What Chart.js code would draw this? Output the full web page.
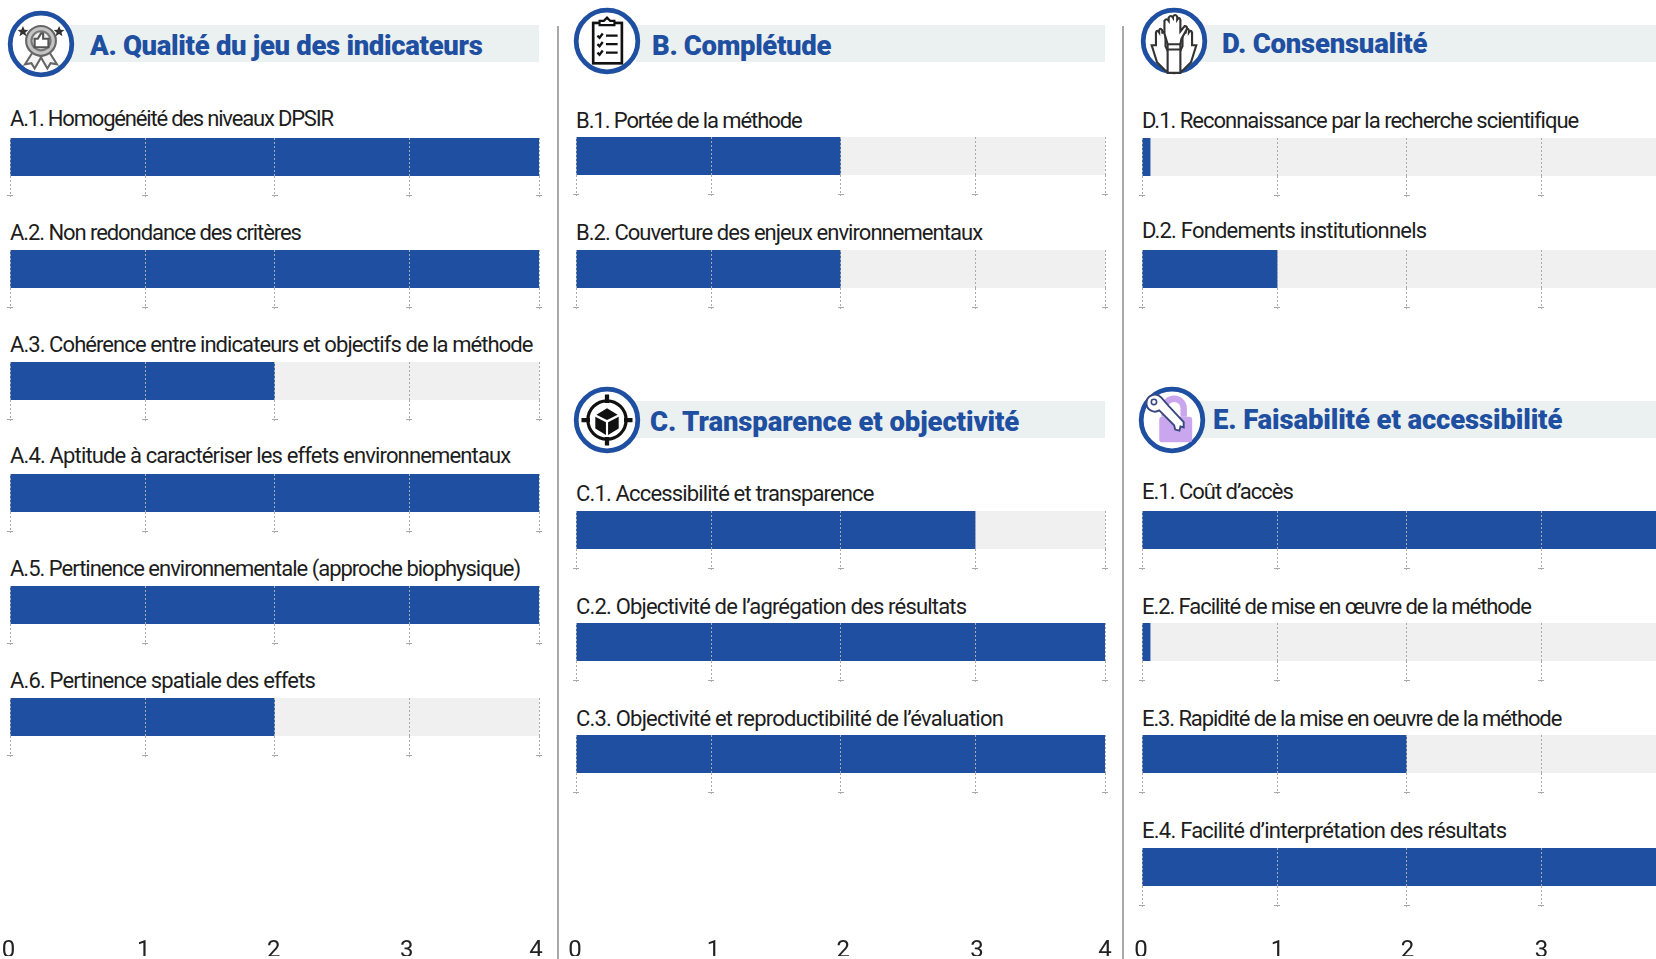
<!DOCTYPE html>
<html>
<head>
<meta charset="utf-8">
<script src="https://cdn.jsdelivr.net/npm/chart.js@4"></script>
<style>
html, body { margin: 0; padding: 0; background: #fff; }
body { width: 1656px; height: 959px; overflow: hidden; position: relative; font-family: Roboto, sans-serif; }
.abs { position: absolute; }
canvas { position: absolute; display: block; }
.band { background: #ebf0f0; height: 37px; }
.title { color: #1e4fa0; font-weight: 900; font-size: 27.5px; line-height: 36px; white-space: nowrap; }
.label { color: #1d1d1d; font-size: 22px; line-height: 26px; white-space: nowrap; }
.divider { background: #a9a9a9; width: 2px; }
</style>
</head>
<body>
<script>
// Data
const tickLabels = ['0', '1', '2', '3', '4']

const catA = ['A.1. Homogénéité des niveaux DPSIR', 'A.2. Non redondance des critères', 'A.3. Cohérence entre indicateurs et objectifs de la méthode', 'A.4. Aptitude à caractériser les effets environnementaux', 'A.5. Pertinence environnementale (approche biophysique)', 'A.6. Pertinence spatiale des effets']
const valA = [4, 4, 2, 4, 4, 2]

const catB = ['B.1. Portée de la méthode', 'B.2. Couverture des enjeux environnementaux']
const valB = [2, 2]

const catC = ['C.1. Accessibilité et transparence', 'C.2. Objectivité de l’agrégation des résultats', 'C.3. Objectivité et reproductibilité de l’évaluation']
const valC = [3, 4, 4]

const catD = ['D.1. Reconnaissance par la recherche scientifique', 'D.2. Fondements institutionnels']
const valD = [0.06, 1]

const catE = ['E.1. Coût d’accès', 'E.2. Facilité de mise en œuvre de la méthode', 'E.3. Rapidité de la mise en oeuvre de la méthode', 'E.4. Facilité d’interprétation des résultats']
const valE = [4, 0.06, 2, 4]

const maxValue = 4

// Layout
const BLUE = '#1e4fa0'
const barH = 38
const tickH = 21
const pad = 6
const colW = 529
const barFractions = [0, 0.2555, 0.5, 0.7545, 1]

const panels = [
    { title: 'A. Qualité du jeu des indicateurs', cats: catA, vals: valA, x: 9.5, band: 25, bandX: 70, titleX: 90, titleY: 28, titleLs: -0.32, cx: 41, cy: 44, icon: 'award',
      barY: [138, 250, 362, 474, 586, 698], labelY: [119, 233, 345, 456, 569, 681], labelLs: [-1.19, -1.07, -0.93, -0.85, -1, -0.85] },
    { title: 'B. Complétude', cats: catB, vals: valB, x: 575.5, band: 25, bandX: 636, titleX: 652, titleY: 28, titleLs: -0.35, cx: 607, cy: 41, icon: 'list',
      barY: [137, 250], labelY: [121, 233], labelLs: [-1.08, -0.95] },
    { title: 'C. Transparence et objectivité', cats: catC, vals: valC, x: 575.5, band: 401, bandX: 636, titleX: 650, titleY: 404, titleLs: -0.1, cx: 607, cy: 420, icon: 'target',
      barY: [511, 623, 735], labelY: [494, 607, 719], labelLs: [-0.84, -0.82, -0.8] },
    { title: 'D. Consensualité', cats: catD, vals: valD, x: 1141.5, band: 25, bandX: 1200, titleX: 1222, titleY: 26, titleLs: -0.22, cx: 1174, cy: 41, icon: 'hands',
      barY: [138, 250], labelY: [121, 231], labelLs: [-1, -0.8] },
    { title: 'E. Faisabilité et accessibilité', cats: catE, vals: valE, x: 1141.5, band: 401, bandX: 1200, titleX: 1213, titleY: 402, titleLs: -0.13, cx: 1172, cy: 420, icon: 'lock',
      barY: [511, 623, 735, 848], labelY: [492, 607, 719, 831], labelLs: [-1, -1.07, -1.11, -0.76] }
]

const axes = [
    { x: 10, fractions: [-0.003, 0.2528, 0.4985, 0.75, 0.9945] },
    { x: 576, fractions: [-0.002, 0.26, 0.505, 0.758, 1] },
    { x: 1142, fractions: [-0.002, 0.256, 0.502, 0.755, 1] }
]

const icons = {
    award: '<path d="M24 40 L17 51 L23 50 L26 55 L33 43 M40 40 L47 51 L41 50 L38 55 L31 43" fill="#f4f4f4" stroke="#666" stroke-width="2"/><circle cx="32" cy="29" r="14" fill="#c4c4c4" stroke="#666" stroke-width="2"/><circle cx="32" cy="29" r="9" fill="#eee" stroke="#777" stroke-width="2"/><path d="M26 27 h3 l3 -5 h2 v5 h5 v8 h-13z" fill="#fff" stroke="#555" stroke-width="2"/><path d="M15 15 l1.5 3.5 3.5 .3 -2.700 2.300 .9 3.600 -3.200 -2 -3.200 2 .9 -3.600 -2.700 -2.300 3.500 -.3z M49 15 l1.500 3.500 3.500 .3 -2.700 2.300 .9 3.600 -3.200 -2 -3.200 2 .9 -3.600 -2.700 -2.300 3.500 -.3z" fill="#333"/>',
    list: '<rect x="19" y="15" width="27" height="38" fill="#fff" stroke="#111" stroke-width="2.500"/><path d="M25 17 v-4 h4 l3 -3 3 3 h4 v4z" fill="#fff" stroke="#111" stroke-width="2"/><path d="M23 27 l2 2 3 -4 M23 35 l2 2 3 -4 M23 43 l2 2 3 -4 M31 27 h11 M31 35 h11 M31 43 h11" fill="none" stroke="#111" stroke-width="2.200"/>',
    target: '<circle cx="32" cy="32" r="18" fill="none" stroke="#111" stroke-width="3"/><path d="M32 8 v8 M32 48 v8 M8 32 h8 M48 32 h8" stroke="#111" stroke-width="4"/><path d="M32 21 l-10 6 10 5 10 -5z M21 29 v11 l10 6 v-12z M43 29 v11 l-10 6 v-12z" fill="#111"/>',
    hands: '<g fill="#fff" stroke="#333" stroke-width="2"><path d="M11 36 L16 52 L24 60 H29 V47 L24 37 V25 q-2 -3 -3 0 V22 q-2 -3 -3 0 V24 q-2 -3 -3 0 V36z"/><path d="M53 36 L48 52 L40 60 H35 V47 L40 37 V25 q2 -3 3 0 V22 q2 -3 3 0 V24 q2 -3 3 0 V36z"/><path d="M26 62 V35 L23 25 V13 q2 -3 4 0 V10 q2 -3 4 0 V9 q2 -3 4 0 V12 q2 -3 3 0 V23 l4 -5 q3 0 2 3 l-5 9 -1 5 V62z"/><path d="M26 35 H39 M26 40 H39" fill="none"/></g>',
    lock: '<path d="M25 29 v-8 a9 9 0 0 1 18 0 v8" fill="none" stroke="#c9a6ee" stroke-width="6"/><rect x="20" y="29" width="31" height="24" rx="3" fill="#c9a6ee"/><path d="M8 17 a8 8 0 0 1 14 -6 l7 8 14 15 v5 l-3 -1 -1 4 -4 -1 -1 -4 -14 -14 a8 8 0 0 1 -12 -6z" fill="#fff" stroke="#3a4a80" stroke-width="1.800"/><circle cx="15" cy="15" r="2.500" fill="#fff" stroke="#3a4a80" stroke-width="1.500"/>'
}

// Scale with the slightly uneven tick spacing of the original
class UnevenScale extends Chart.LinearScale {
    static id = 'uneven'
    static defaults = Chart.LinearScale.defaults
    getPixelForValue(value) {
        const fr = this.options.fractions
        const i = Math.min(Math.floor(value), fr.length - 2)
        return this.getPixelForDecimal(fr[i] + (value - i) * (fr[i + 1] - fr[i]))
    }
}
Chart.register(UnevenScale)

// Small cap at the foot of each dotted line
const tickCaps = {
    id: 'tickCaps',
    afterDraw(chart) {
        const scale = chart.scales.x
        const ctx = chart.ctx
        ctx.save()
        ctx.fillStyle = '#a8a8a8'
        scale.ticks.forEach((t, i) => {
            ctx.fillRect(Math.round(scale.getPixelForTick(i)) - 3, chart.height - 2, 6, 1)
        })
        ctx.restore()
    }
}

function addDiv(cls, left, top, width, height, text) {
    const d = document.createElement('div')
    d.className = 'abs ' + cls
    d.style.left = left + 'px'
    d.style.top = top + 'px'
    if (width) d.style.width = width + 'px'
    if (height) d.style.height = height + 'px'
    if (text) d.textContent = text
    document.body.appendChild(d)
    return d
}

function addCanvas(left, top, width, height) {
    const c = document.createElement('canvas')
    c.width = width
    c.height = height
    c.style.left = left + 'px'
    c.style.top = top + 'px'
    document.body.appendChild(c)
    return c
}

// Dividers
addDiv('divider', 557, 26, 0, 933)
addDiv('divider', 1122, 26, 0, 933)

panels.forEach(p => {
    // Header
    addDiv('band', p.bandX, p.band, Math.round(p.x) + colW - p.bandX, 0)
    addDiv('title', p.titleX, p.titleY, 0, 0, p.title).style.letterSpacing = p.titleLs + 'px'
    const ring = addDiv('', p.cx - 34, p.cy - 34, 68, 68)
    ring.innerHTML = `<svg width="68" height="68" viewBox="0 0 64 64"><circle cx="32" cy="32" r="29" fill="#fff" stroke="${BLUE}" stroke-width="4.500"/>${icons[p.icon]}</svg>`

    p.cats.forEach((cat, i) => {
        addDiv('label', p.x + 0.5, p.labelY[i] - 13, 0, 0, cat).style.letterSpacing = p.labelLs[i] + 'px'
        const canvas = addCanvas(Math.round(p.x) - pad, p.barY[i], colW + pad * 2, barH + tickH)
        new Chart(canvas, {
            type: 'bar',
            data: {
                labels: [cat],
                datasets: [
                    { label: 'Score', data: [p.vals[i]], backgroundColor: BLUE, order: 1 },
                    { label: 'Maximum', data: [maxValue], backgroundColor: '#f0f0f0', order: 2 }
                ]
            },
            options: {
                indexAxis: 'y',
                responsive: false,
                animation: false,
                layout: { padding: { left: pad, right: pad } },
                datasets: { bar: { grouped: false, categoryPercentage: 1, barPercentage: 1 } },
                plugins: { legend: { display: false }, tooltip: { enabled: false } },
                scales: {
                    y: { display: false },
                    x: {
                        type: 'uneven',
                        fractions: barFractions,
                        min: 0,
                        max: maxValue,
                        border: { display: false, dash: [2, 2] },
                        grid: { z: 1, color: '#ababab', tickColor: '#ababab', tickLength: tickH, tickBorderDash: [2, 2], lineWidth: 1 },
                        ticks: { display: false, stepSize: 1 }
                    }
                }
            },
            plugins: [tickCaps]
        })
    })
})

// Bottom axes
axes.forEach(a => {
    const canvas = addCanvas(a.x - 20, 918, colW + 40, 38)
    new Chart(canvas, {
        type: 'bar',
        data: { labels: [''], datasets: [{ data: [] }] },
        options: {
            indexAxis: 'y',
            responsive: false,
            animation: false,
            layout: { padding: { left: 20, right: 20 } },
            plugins: { legend: { display: false }, tooltip: { enabled: false } },
            scales: {
                y: { display: false },
                x: {
                    type: 'uneven',
                    fractions: a.fractions,
                    min: 0,
                    max: maxValue,
                    border: { display: false },
                    grid: { display: false, drawTicks: false },
                    ticks: {
                        stepSize: 1,
                        padding: 0,
                        maxRotation: 0,
                        color: '#222',
                        font: { family: 'Roboto', size: 24 },
                        callback: (v) => tickLabels[v]
                    }
                }
            }
        }
    })
})
</script>
</body>
</html>
